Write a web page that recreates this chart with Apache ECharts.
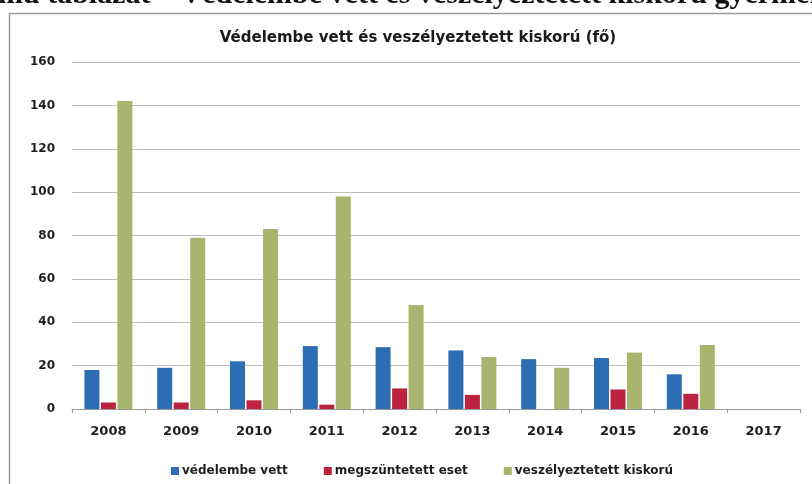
<!DOCTYPE html>
<html>
<head>
    <meta charset="utf-8">
    <title>Védelembe vett és veszélyeztetett kiskorú</title>
    <script src="https://cdn.jsdelivr.net/npm/echarts@6/dist/echarts.min.js"></script>
</head>
<style>
    body {
        margin: 0;
        background: #fff;
    }

    #chart {
        width: 812px;
        height: 484px;
    }
</style>
<body>
<div id="chart"></div>
<script type="text/javascript">

    var years = ['2008', '2009', '2010', '2011', '2012', '2013', '2014', '2015', '2016', '2017'];
    var vedelembeVett = [18, 19, 22, 29, 28.5, 27, 23, 23.5, 16, null];
    var megszuntetett = [3, 3, 4, 2, 9.5, 6.5, null, 9, 7, null];
    var veszelyeztetett = [142, 79, 83, 98, 48, 24, 19, 26, 29.5, null];
    var seriesNames = ['védelembe vett', 'megszüntetett eset', 'veszélyeztetett kiskorú'];

    var chart = echarts.init(document.getElementById('chart'));

    var labelFont = {
        fontFamily: 'DejaVu Sans',
        fontWeight: 'bold',
        color: '#1e1e1e'
    };

    chart.setOption({
        animation: false,
        title: {
            text: 'Védelembe vett és veszélyeztetett kiskorú (fő)',
            left: 413,
            textAlign: 'center',
            top: 26,
            textStyle: {
                fontFamily: 'DejaVu Sans',
                fontWeight: 'bold',
                fontSize: 15,
                color: '#1a1a1a'
            }
        },
        graphic: [
            {
                // page header, cut off at the top of the scan
                type: 'text',
                left: -2,
                top: -20,
                style: {
                    text: 'mű táblázat – Védelembe vett és veszélyeztetett kiskorú gyermekek',
                    font: 'bold 30px "Liberation Serif"',
                    fill: '#111'
                }
            },
            {
                type: 'rect',
                shape: {x: 9.5, y: 13.5, width: 830, height: 500},
                style: {fill: 'none', stroke: '#9a9a9a', lineWidth: 1.5}
            }
        ],
        legend: {
            data: seriesNames,
            top: 460,
            left: 166,
            itemWidth: 8,
            itemHeight: 8,
            itemGap: 36,
            icon: 'rect',
            textStyle: {
                fontFamily: 'DejaVu Sans',
                fontWeight: 'bold',
                fontSize: 12,
                color: '#1e1e1e',
                padding: [0, 0, 0, -2]
            }
        },
        grid: {
            left: 72,
            right: 12,
            top: 62,
            bottom: 75
        },
        xAxis: {
            type: 'category',
            data: years,
            axisLine: {lineStyle: {color: '#999'}},
            axisTick: {show: true, length: 4, lineStyle: {color: '#999'}},
            axisLabel: Object.assign({fontSize: 13, margin: 16}, labelFont)
        },
        yAxis: {
            type: 'value',
            min: 0,
            max: 160,
            interval: 20,
            axisLine: {show: false},
            axisTick: {show: false},
            splitLine: {lineStyle: {color: '#bdbdbd'}},
            axisLabel: Object.assign({fontSize: 12, margin: 17}, labelFont)
        },
        series: [
            {
                name: seriesNames[0],
                type: 'bar',
                data: vedelembeVett,
                barWidth: 15,
                barGap: '10%',
                itemStyle: {color: '#2c6db4'}
            },
            {
                name: seriesNames[1],
                type: 'bar',
                data: megszuntetett,
                barWidth: 15,
                barGap: '10%',
                itemStyle: {color: '#bd2340'}
            },
            {
                name: seriesNames[2],
                type: 'bar',
                data: veszelyeztetett,
                barWidth: 15,
                barGap: '10%',
                itemStyle: {color: '#a8b56e'}
            }
        ]
    });
</script>
</body>
</html>
